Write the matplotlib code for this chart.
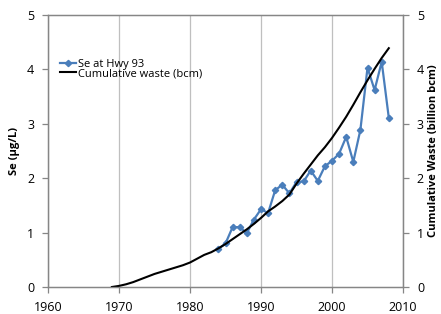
import matplotlib

matplotlib.use("Agg")
import matplotlib.pyplot as plt

# Se at Hwy 93 (µg/L)
se_years = list(range(1984, 2009))
se_values = [0.70, 0.80, 1.10, 1.10, 0.99, 1.24, 1.43, 1.36, 1.78, 1.88,
             1.72, 1.93, 1.94, 2.14, 1.95, 2.22, 2.32, 2.45, 2.76, 2.30,
             2.89, 4.03, 3.62, 4.14, 3.11]

# Cumulative waste (billion bcm)
waste_years = list(range(1969, 2009))
waste_values = [0.00, 0.02, 0.05, 0.09, 0.14, 0.19, 0.24, 0.28, 0.32, 0.36,
                0.40, 0.45, 0.52, 0.59, 0.64, 0.71, 0.79, 0.88, 0.97, 1.06,
                1.16, 1.27, 1.39, 1.48, 1.58, 1.70, 1.90, 2.08, 2.25, 2.42,
                2.57, 2.74, 2.93, 3.13, 3.35, 3.58, 3.80, 4.01, 4.21, 4.39]

plt.rcParams["font.family"] = ["Open Sans", "DejaVu Sans"]
GRID = "#bfbfbf"
AXIS = "#868686"
BLUE = "#4a7ebb"

fig = plt.figure(figsize=(4.41, 3.14), dpi=100)
ax = fig.add_axes([48 / 441, 27 / 314, 355 / 441, 272 / 314])
ax2 = ax.twinx()

se_line, = ax.plot(se_years, se_values, color=BLUE, lw=1.6, marker="D",
                   ms=3.2, label="Se at Hwy 93")
w_line, = ax2.plot(waste_years, waste_values, color="black", lw=1.5,
                   label="Cumulative waste (bcm)")

ax.set_xlim(1960, 2010)
ax.set_ylim(0, 5)
ax2.set_ylim(0, 5)
ax.set_xticks(range(1960, 2011, 10))
ax.set_yticks(range(0, 6))
ax2.set_yticks(range(0, 6))
ax.grid(axis="x", color=GRID, lw=0.9)
ax.set_axisbelow(True)

for a in (ax, ax2):
    for s in a.spines.values():
        s.set_color(AXIS)
        s.set_linewidth(0.9)
    a.tick_params(labelsize=9, color=AXIS, length=4, width=0.9,
                  labelcolor="black")
ax.tick_params(axis="x", pad=6)
ax.tick_params(axis="y", pad=6)
ax2.tick_params(axis="y", pad=6)

ax.set_ylabel("Se (µg/L)", fontsize=8, fontweight="bold", labelpad=5)
ax2.set_ylabel("Cumulative Waste (billion bcm)", fontsize=8,
               fontweight="bold", labelpad=3)

ax.legend(handles=[se_line, w_line], loc="upper left",
          bbox_to_anchor=(0.034, 0.84), frameon=False, fontsize=8,
          borderaxespad=0, borderpad=0,
          handlelength=1.45, handletextpad=0.15, labelspacing=-0.12)

fig.savefig("out.png", dpi=100, facecolor="white")
